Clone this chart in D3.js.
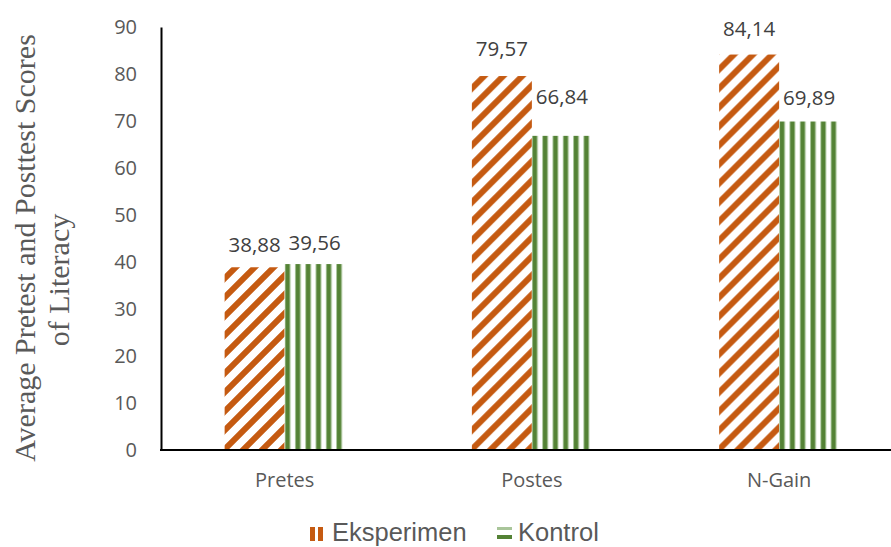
<!DOCTYPE html>
<html>
<head>
<meta charset="utf-8">
<script src="https://cdn.jsdelivr.net/npm/d3@7"></script>
<style>
  body { margin: 0; background: #fff; }
  svg { display: block; }
</style>
</head>
<body>
<script>
var width = 891,
    height = 547;

var categories = ["Pretes", "Postes", "N-Gain"];
var eksperimen = [38.88, 79.57, 84.14];
var kontrol = [39.56, 66.84, 69.89];
var series = ["Eksperimen", "Kontrol"];
var yTicks = [0, 10, 20, 30, 40, 50, 60, 70, 80, 90];

// label gap above each bar (px), as Excel placed them
var gapEks = [15.5, 20.5, 19];
var gapKon = [14.5, 31.5, 17];

var orange = "#C55A11",
    green = "#548235",
    lightGreen = "#A9C59A";

var svg = d3.select("body").append("svg")
    .attr("width", width)
    .attr("height", height);

// patterns
var defs = svg.append("defs");
var pe = defs.append("pattern")
    .attr("id", "pat-eks")
    .attr("patternUnits", "userSpaceOnUse")
    .attr("width", 19).attr("height", 19);
pe.append("rect").attr("width", 19).attr("height", 19).attr("fill", "#fff");
pe.append("path")
    .attr("d", "M-5,24 L24,-5 M-14,14 L14,-14 M5,33 L33,5")
    .attr("stroke", orange)
    .attr("stroke-width", 6);

var pk = defs.append("pattern")
    .attr("id", "pat-kon")
    .attr("patternUnits", "userSpaceOnUse")
    .attr("width", 10.3).attr("height", 10);
pk.append("rect").attr("width", 10.3).attr("height", 10).attr("fill", "#fff");
pk.append("rect").attr("x", 0).attr("width", 6).attr("height", 10).attr("fill", lightGreen);
pk.append("rect").attr("x", 1).attr("width", 4).attr("height", 10).attr("fill", green);

// scales
var x = d3.scaleBand()
    .domain(categories)
    .range([161, 161 + 3 * 247.25])
    .paddingInner(0)
    .paddingOuter(0);

var barW = 60;
var xs = d3.scaleBand()
    .domain(series)
    .range([x.bandwidth() / 2 - barW, x.bandwidth() / 2 + barW]);

var y = d3.scaleLinear()
    .domain([0, 90])
    .range([450, 27]);

var rows = categories.map(function(c, i) {
  return { cat: c, values: [
    { key: "Eksperimen", value: eksperimen[i], gap: gapEks[i] },
    { key: "Kontrol", value: kontrol[i], gap: gapKon[i] }
  ]};
});

// bars
var group = svg.append("g").selectAll("g")
    .data(rows)
    .enter().append("g")
    .attr("transform", function(d) { return "translate(" + x(d.cat) + ",0)"; });

group.selectAll("rect")
    .data(function(d) { return d.values; })
    .enter().append("rect")
    .attr("x", function(d) { return xs(d.key); })
    .attr("width", xs.bandwidth())
    .attr("y", function(d) { return y(d.value); })
    .attr("height", function(d) { return y(0) - y(d.value); })
    .attr("fill", function(d) { return d.key == "Eksperimen" ? "url(#pat-eks)" : "url(#pat-kon)"; });

// value labels
group.selectAll("text")
    .data(function(d) { return d.values; })
    .enter().append("text")
    .attr("x", function(d) { return xs(d.key) + xs.bandwidth() / 2; })
    .attr("y", function(d) { return y(d.value) - d.gap; })
    .attr("text-anchor", "middle")
    .attr("font-family", "'Open Sans', sans-serif")
    .attr("font-size", 20.5)
    .attr("fill", "#404040")
    .text(function(d) { return d.value.toFixed(2).replace(".", ","); });

// y axis
var yAxis = svg.append("g")
    .attr("transform", "translate(161,0)")
    .call(d3.axisLeft(y).tickValues(yTicks).tickSize(0).tickPadding(24));
yAxis.select(".domain").attr("stroke", "#000").attr("stroke-width", 2);
yAxis.selectAll("text")
    .attr("font-family", "'Open Sans', sans-serif")
    .attr("font-size", 20)
    .attr("fill", "#595959");

// x axis
var xAxis = svg.append("g")
    .attr("transform", "translate(0,450)")
    .call(d3.axisBottom(x).tickSize(0).tickPadding(23));
xAxis.select(".domain").remove();
xAxis.selectAll("text")
    .attr("font-family", "'Open Sans', sans-serif")
    .attr("font-size", 20)
    .attr("fill", "#595959");
svg.append("line")
    .attr("x1", 160).attr("x2", width)
    .attr("y1", 450).attr("y2", 450)
    .attr("stroke", "#000").attr("stroke-width", 2);

// axis title
svg.append("text")
    .attr("transform", "translate(35,248) rotate(-90)")
    .attr("text-anchor", "middle")
    .attr("font-family", "'Liberation Serif', serif")
    .attr("font-size", 30)
    .attr("fill", "#595959")
    .text("Average Pretest and Posttest Scores");
svg.append("text")
    .attr("transform", "translate(69,280) rotate(-90)")
    .attr("text-anchor", "middle")
    .attr("font-family", "'Liberation Serif', serif")
    .attr("font-size", 30)
    .attr("fill", "#595959")
    .text("of Literacy");

// legend
var legend = svg.append("g");
legend.append("rect").attr("x", 310).attr("y", 527).attr("width", 5).attr("height", 14).attr("fill", orange);
legend.append("rect").attr("x", 318).attr("y", 527).attr("width", 5).attr("height", 14).attr("fill", orange);
legend.append("text")
    .attr("x", 332).attr("y", 541)
    .attr("font-family", "'Liberation Sans', Arial, sans-serif")
    .attr("font-size", 25.5)
    .attr("fill", "#595959")
    .text(series[0]);
legend.append("rect").attr("x", 497).attr("y", 527).attr("width", 15).attr("height", 3).attr("fill", lightGreen);
legend.append("rect").attr("x", 497).attr("y", 535).attr("width", 15).attr("height", 4).attr("fill", green);
legend.append("text")
    .attr("x", 518).attr("y", 541)
    .attr("font-family", "'Liberation Sans', Arial, sans-serif")
    .attr("font-size", 25.5)
    .attr("fill", "#595959")
    .text(series[1]);
</script>
</body>
</html>
